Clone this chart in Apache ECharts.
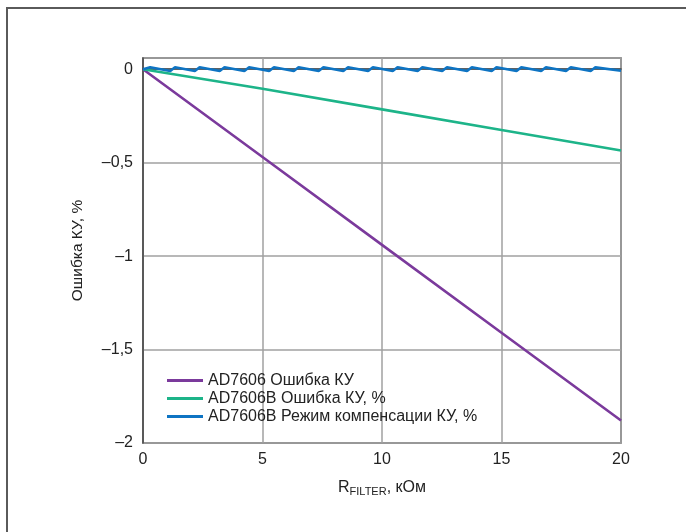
<!DOCTYPE html>
<html>
<head>
<meta charset="utf-8">
<script src="https://cdn.jsdelivr.net/npm/echarts@6/dist/echarts.min.js"></script>
<style>
  html, body { margin: 0; padding: 0; background: #fff; }
  #chart { width: 686px; height: 532px; }
</style>
</head>
<body>
<div id="chart"></div>
<script>
  // R_FILTER, kOhm
  const lineX = [0, 5, 10, 15, 20];
  const ad7606Err = [0, -0.47, -0.94, -1.41, -1.88];
  const ad7606bErr = [0, -0.105, -0.215, -0.325, -0.435];

  // compensated curve: small sawtooth around zero
  const compX = [0, 0.30, 1.14, 1.34, 2.17, 2.37, 3.21, 3.41, 4.24, 4.44, 5.28, 5.48,
    6.31, 6.51, 7.35, 7.55, 8.38, 8.58, 9.42, 9.62, 10.45, 10.65, 11.49, 11.69,
    12.52, 12.72, 13.56, 13.76, 14.59, 14.79, 15.63, 15.83, 16.66, 16.86,
    17.70, 17.90, 18.73, 18.93, 20];
  const compErr = [0, 0.01, -0.01, 0.01, -0.01, 0.01, -0.01, 0.01, -0.01, 0.01, -0.01, 0.01,
    -0.01, 0.01, -0.01, 0.01, -0.01, 0.01, -0.01, 0.01, -0.01, 0.01, -0.01, 0.01,
    -0.01, 0.01, -0.01, 0.01, -0.01, 0.01, -0.01, 0.01, -0.01, 0.01,
    -0.01, 0.01, -0.01, 0.01, -0.008];

  const seriesNames = ["AD7606 Ошибка КУ", "AD7606B Ошибка КУ, %", "AD7606B Режим компенсации КУ, %"];
  const colorList = ["#7b3a9c", "#1db489", "#0e74c3"];

  const pairs = (xs, ys) => xs.map((x, i) => [x, ys[i]]);
  const lineSeries = (name, data, color) => ({
    name: name,
    type: "line",
    data: data,
    symbol: "none",
    smooth: false,
    lineStyle: { color: color, width: 2.6 },
    itemStyle: { color: color },
  });

  const fmtY = v => (v === 0 ? "0" : "\u2013" + String(Math.abs(v)).replace(".", ","));
  const font = "Liberation Sans, Arial, sans-serif";

  const chart = echarts.init(document.getElementById("chart"), null, { renderer: "canvas" });
  chart.setOption({
    animation: false,
    backgroundColor: "#fff",
    color: colorList,
    textStyle: { fontFamily: font },
    graphic: [
      {
        type: "rect",
        shape: { x: 7, y: 8, width: 720, height: 600 },
        style: { fill: "none", stroke: "#5a5a5a", lineWidth: 2 },
        silent: true,
        z: 100,
      },
    ],
    grid: {
      left: 143, right: 65, top: 58, bottom: 89,
      show: true, borderColor: "#555", borderWidth: 1.5,
      backgroundColor: "transparent",
    },
    legend: {
      orient: "vertical",
      left: 162,
      top: 367,
      icon: "rect",
      itemWidth: 36,
      itemHeight: 3,
      itemGap: 1,
      textStyle: { fontSize: 16, color: "#222", fontFamily: font, lineHeight: 17 },
      data: seriesNames,
    },
    xAxis: {
      type: "value",
      min: 0, max: 20, interval: 5,
      axisLine: { show: true, lineStyle: { color: "#444", width: 1.5 } },
      axisTick: { show: false },
      splitLine: { show: true, lineStyle: { color: "#a0a0a0", width: 1.5 } },
      axisLabel: { fontSize: 16, color: "#222", margin: 9 },
      name: "{a|R}{s|FILTER}{a|, кОм}",
      nameLocation: "middle",
      nameGap: 35,
      nameTextStyle: {
        rich: {
          a: { fontSize: 16, color: "#222", fontFamily: font },
          s: { fontSize: 11, color: "#222", fontFamily: font, padding: [8, 0, 0, 0] },
        },
      },
    },
    yAxis: {
      type: "value",
      min: -2, max: 0.06, interval: 0.5,
      axisLine: { show: true, lineStyle: { color: "#444", width: 1.5 } },
      axisTick: { show: false },
      splitLine: { show: true, lineStyle: { color: "#a0a0a0", width: 1.5 } },
      axisLabel: { fontSize: 16, color: "#222", margin: 10, formatter: v => (v > 0 ? "" : fmtY(v)) },
      name: "Ошибка КУ, %",
      nameLocation: "middle",
      nameGap: 57,
      nameTextStyle: { fontSize: 15.5, color: "#222" },
    },
    series: [
      lineSeries(seriesNames[0], pairs(lineX, ad7606Err), colorList[0]),
      lineSeries(seriesNames[1], pairs(lineX, ad7606bErr), colorList[1]),
      lineSeries(seriesNames[2], pairs(compX, compErr), colorList[2]),
    ],
  });
</script>
</body>
</html>
